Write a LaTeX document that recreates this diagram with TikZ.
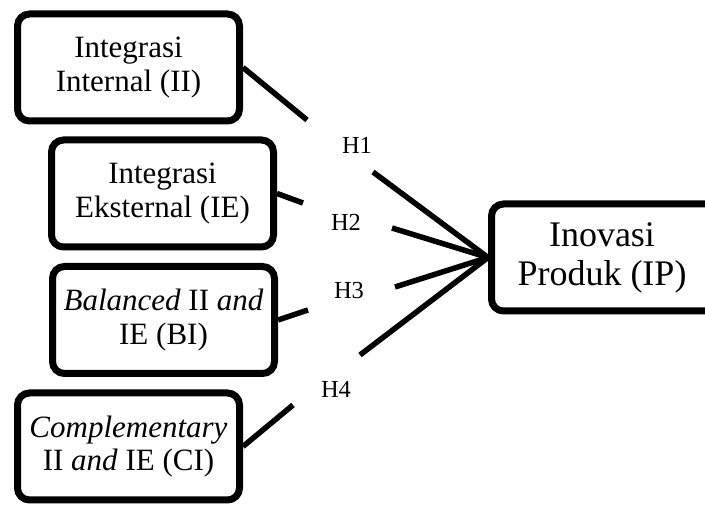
\documentclass[tikz,border=0pt]{standalone}
\usepackage{fontspec}
\setmainfont{Liberation Serif}
\usetikzlibrary{shadows}

\begin{document}
\begin{tikzpicture}[x=1pt, y=1pt,
	varbox/.style={rectangle, draw=black, line width=7pt, rounded corners=12pt, fill=white, align=center,
		minimum width=222pt, minimum height=107pt, inner sep=0pt,
		drop shadow={opacity=0.35, shadow xshift=1.5pt, shadow yshift=-2.5pt},
		font=\fontsize{31}{33.5}\selectfont},
	hlabel/.style={inner sep=0pt, font=\fontsize{24.5}{26}\selectfont},
	link/.style={draw=black, line width=5.5pt}]
			\useasboundingbox (0,0) rectangle (705,505);
			\clip (0,0) rectangle (705,505);
			
			\node[varbox] (ii) at (128.5,437.5){Integrasi\\Internal (II)};
			\node[varbox] (ie) at (162.5,311.5){Integrasi\\Eksternal (IE)};
			\node[varbox] (bi) at (163.5,185){\textit{Balanced} II \textit{and}\\IE (BI)};
			\node[varbox] (ci) at (128.5,58.5){\textit{Complementary}\\II \textit{and} IE (CI)};
			% kotak kanan terpotong di tepi gambar
			\node[varbox, minimum width=250pt, font=\fontsize{36}{39}\selectfont] (ip) at (616.5,247.5)
				{\hspace*{-29pt}Inovasi\\\hspace*{-29pt}Produk (IP)};
			
			\node[hlabel] (h1) at (357,360){H1};
			\node[hlabel] (h2) at (346,283){H2};
			\node[hlabel] (h3) at (349,214){H3};
			\node[hlabel] (h4) at (336,116){H4};
			
			% ujung garis di sekitar label
			\coordinate (a1) at (307,385);
			\coordinate (a2) at (303,302);
			\coordinate (a3) at (308,195);
			\coordinate (a4) at (293,100);
			\coordinate (b1) at (373,333);
			\coordinate (b2) at (392,277);
			\coordinate (b3) at (395,218);
			\coordinate (b4) at (360,150);
			
			\path[link] (ii.east) -- (a1);
			\path[link] (ie.east) -- (a2);
			\path[link] (bi.east) -- (a3);
			\path[link] (ci.east) -- (a4);
			
			\path[link] (b1) -- (ip.west);
			\path[link] (b2) -- (ip.west);
			\path[link] (b3) -- (ip.west);
			\path[link] (b4) -- (ip.west);
			\end{tikzpicture}
\end{document}
